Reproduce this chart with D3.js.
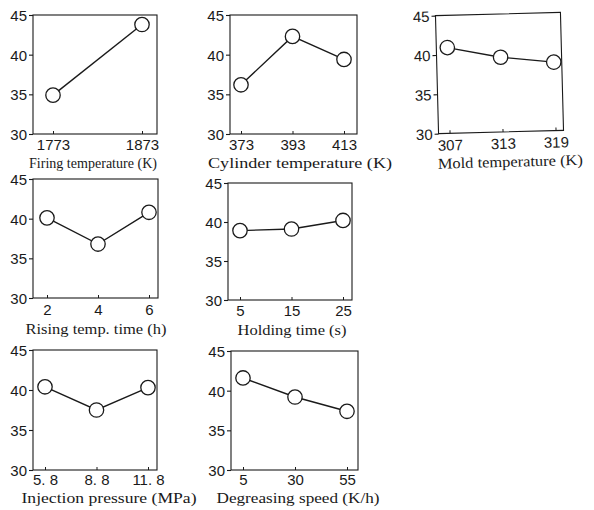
<!DOCTYPE html>
<html><head><meta charset="utf-8">
<script src="https://cdnjs.cloudflare.com/ajax/libs/d3/7.8.5/d3.min.js"></script>
<style>html,body{margin:0;padding:0;background:#fff;}svg{display:block;}</style>
</head><body>
<script>
// ---- data ----
const yTicks = [30, 35, 40, 45];
const firingCats = ["1773", "1873"];
const firingVals = [34.9, 43.8];
const cylinderCats = ["373", "393", "413"];
const cylinderVals = [36.2, 42.3, 39.4];
const moldCats = ["307", "313", "319"];
const moldVals = [40.9, 39.5, 38.7];
const risingCats = ["2", "4", "6"];
const risingVals = [40.1, 36.8, 40.8];
const holdingCats = ["5", "15", "25"];
const holdingVals = [38.9, 39.1, 40.2];
const injectionCats = ["5. 8", "8. 8", "11. 8"];
const injectionVals = [40.4, 37.5, 40.3];
const degreasingCats = ["5", "30", "55"];
const degreasingVals = [41.6, 39.2, 37.4];
const titles = ["Firing temperature (K)", "Cylinder temperature (K)", "Mold temperature (K)",
  "Rising temp. time (h)", "Holding time (s)", "Injection pressure (MPa)", "Degreasing speed (K/h)"];

// ---- layout (positions only) ----
const layout = [
  {cats: firingCats, vals: firingVals, x0: 33, x1: 157, y0: 15, y1: 134, p0: 53, p1: 142, tb: 150, lb: 168, tc: 93, tw: 128, rot: 0},
  {cats: cylinderCats, vals: cylinderVals, x0: 230, x1: 357, y0: 15, y1: 134, p0: 241, p1: 344, tb: 150, lb: 168, tc: 300, tw: 184, rot: 0},
  {cats: moldCats, vals: moldVals, x0: 437, x1: 562, y0: 14, y1: 132, p0: 448, p1: 554, tb: 149, lb: 167, tc: 508, tw: 145, rot: -1.5},
  {cats: risingCats, vals: risingVals, x0: 33, x1: 158, y0: 179, y1: 298, p0: 47, p1: 149, tb: 315, lb: 334, tc: 96, tw: 141, rot: 0},
  {cats: holdingCats, vals: holdingVals, x0: 228, x1: 352, y0: 183, y1: 300, p0: 240, p1: 343, tb: 316, lb: 335, tc: 292, tw: 109, rot: 0},
  {cats: injectionCats, vals: injectionVals, x0: 33, x1: 157, y0: 350, y1: 470, p0: 45, p1: 148, tb: 485, lb: 503, tc: 109, tw: 175, rot: 0},
  {cats: degreasingCats, vals: degreasingVals, x0: 231, x1: 358, y0: 351, y1: 470, p0: 243, p1: 347, tb: 485, lb: 503, tc: 298, tw: 163, rot: 0}
];

const svg = d3.select("body").append("svg").attr("width", 594).attr("height", 510);
const ink = "#1a1a1a";

layout.forEach((p, i) => {
  const cx = (p.x0 + p.x1) / 2, cy = (p.y0 + p.y1) / 2;
  const g = svg.append("g").attr("transform", `rotate(${p.rot},${cx},${cy})`);
  const x = d3.scalePoint().domain(p.cats).range([p.p0, p.p1]);
  const y = d3.scaleLinear().domain([30, 45]).range([p.y1, p.y0]);

  g.append("rect").attr("x", p.x0).attr("y", p.y0)
    .attr("width", p.x1 - p.x0).attr("height", p.y1 - p.y0)
    .attr("fill", "none").attr("stroke", ink).attr("stroke-width", 1.1);

  const ya = g.append("g").attr("transform", `translate(${p.x0},0)`)
    .call(d3.axisLeft(y).tickValues(yTicks).tickSize(4).tickPadding(2));
  ya.select(".domain").remove();
  ya.selectAll("line").attr("stroke", ink).attr("stroke-width", 1.1);
  ya.selectAll("text").attr("fill", ink).attr("font-family", "'Liberation Sans', Arial, sans-serif")
    .attr("font-size", 15).attr("dy", "0.36em");

  const xa = g.append("g").attr("transform", `translate(0,${p.y1})`)
    .call(d3.axisBottom(x).tickSize(-3).tickPadding(0));
  xa.select(".domain").remove();
  xa.selectAll("line").attr("stroke", ink).attr("stroke-width", 1);
  xa.selectAll("text").attr("fill", ink).attr("font-family", "'Liberation Sans', Arial, sans-serif")
    .attr("font-size", 15).attr("y", p.tb - p.y1).attr("dy", 0);

  const line = d3.line().x((d, j) => x(p.cats[j])).y(d => y(d));
  g.append("path").datum(p.vals).attr("d", line)
    .attr("fill", "none").attr("stroke", ink).attr("stroke-width", 1.4);

  g.selectAll("circle.pt").data(p.vals).join("circle").attr("class", "pt")
    .attr("cx", (d, j) => x(p.cats[j])).attr("cy", d => y(d)).attr("r", 7.2)
    .attr("fill", "#fff").attr("stroke", ink).attr("stroke-width", 1.3);

  g.append("text").attr("x", p.tc).attr("y", p.lb).attr("text-anchor", "middle")
    .attr("font-family", "'Liberation Serif', 'Times New Roman', serif").attr("font-size", 15)
    .attr("fill", ink).attr("textLength", p.tw).attr("lengthAdjust", "spacingAndGlyphs")
    .text(titles[i]);
});
</script>
</body></html>
